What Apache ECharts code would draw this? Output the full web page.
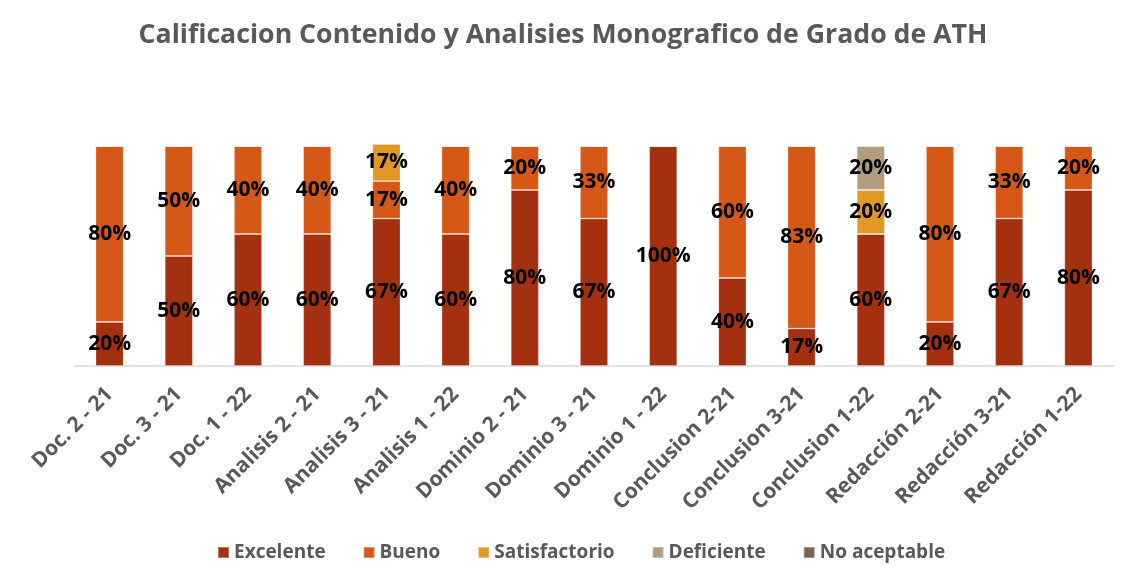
<!DOCTYPE html>
<html>
<head>
<meta charset="utf-8">
<script src="https://cdn.jsdelivr.net/npm/echarts@6/dist/echarts.min.js"></script>
<style>
  html, body { margin: 0; padding: 0; background: #fff; }
  #chart { width: 1135px; height: 584px; }
</style>
</head>
<body>
<div id="chart"></div>
<script>
const categories = ['Doc. 2 - 21', 'Doc. 3 - 21', 'Doc. 1 - 22', 'Analisis 2 - 21', 'Analisis 3 - 21',
    'Analisis 1 - 22', 'Dominio 2 - 21', 'Dominio 3 - 21', 'Dominio 1 - 22', 'Conclusion 2-21',
    'Conclusion 3-21', 'Conclusion 1-22', 'Redacción 2-21', 'Redacción 3-21', 'Redacción 1-22']
const excelente = [20, 50, 60, 60, 67, 60, 80, 67, 100, 40, 17, 60, 20, 67, 80]
const bueno = [80, 50, 40, 40, 17, 40, 20, 33, 0, 60, 83, 0, 80, 33, 20]
const satisfactorio = [0, 0, 0, 0, 17, 0, 0, 0, 0, 0, 0, 20, 0, 0, 0]
const deficiente = [0, 0, 0, 0, 0, 0, 0, 0, 0, 0, 0, 20, 0, 0, 0]
const noAceptable = [0, 0, 0, 0, 0, 0, 0, 0, 0, 0, 0, 0, 0, 0, 0]

const font = '"Open Sans", "Liberation Sans", sans-serif'
const chart = echarts.init(document.getElementById('chart'))

function makeSeries(name, data, color) {
    return {
        name: name,
        type: 'bar',
        stack: 'total',
        barWidth: 28,
        clip: false,
        data: data,
        itemStyle: { color: color, borderColor: 'rgba(255,255,255,0.35)', borderWidth: 0.8 },
        label: {
            show: true,
            position: 'inside',
            color: '#000',
            fontFamily: font,
            fontWeight: 'bold',
            fontSize: 21,
            formatter: p => p.value > 0 ? p.value + '%' : ''
        }
    }
}

const option = {
    animation: false,
    title: {
        text: 'Calificacion Contenido y Analisies Monografico de Grado de ATH',
        left: 558,
        textAlign: 'center',
        top: 17,
        textStyle: { color: '#595959', fontFamily: font, fontWeight: 'bold', fontSize: 26.7 }
    },
    color: ['#A5300F', '#D55816', '#E19825', '#B19C7D', '#7F5F52'],
    legend: {
        bottom: 17,
        left: 212,
        itemWidth: 11,
        itemHeight: 11,
        itemGap: 37,
        icon: 'rect',
        textStyle: { color: '#595959', fontFamily: font, fontWeight: 'bold', fontSize: 19 },
        data: ['Excelente', 'Bueno', 'Satisfactorio', 'Deficiente', 'No aceptable']
    },
    grid: { left: 75, right: 22, top: 146, bottom: 218 },
    xAxis: {
        type: 'category',
        data: categories,
        axisLine: { lineStyle: { color: '#D9D9D9', width: 1.5 } },
        axisTick: { show: false },
        axisLabel: {
            rotate: 45,
            interval: 0,
            margin: 25,
            color: '#595959',
            fontFamily: font,
            fontWeight: 'bold',
            fontSize: 21
        }
    },
    yAxis: {
        type: 'value',
        min: 0,
        max: 100,
        show: false,
        splitLine: { show: false }
    },
    series: [
        makeSeries('Excelente', excelente, '#A5300F'),
        makeSeries('Bueno', bueno, '#D55816'),
        makeSeries('Satisfactorio', satisfactorio, '#E19825'),
        makeSeries('Deficiente', deficiente, '#B19C7D'),
        makeSeries('No aceptable', noAceptable, '#7F5F52')
    ]
}
chart.setOption(option)
</script>
</body>
</html>
